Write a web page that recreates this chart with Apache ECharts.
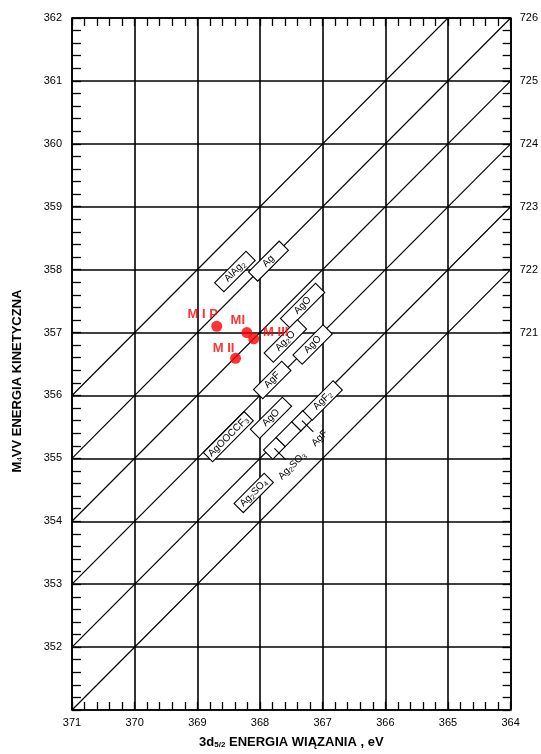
<!DOCTYPE html>
<html>
<head>
<meta charset="utf-8">
<script src="https://cdn.jsdelivr.net/npm/echarts@6/dist/echarts.min.js"></script>
<style>html,body{margin:0;padding:0;background:#fff}#c{width:541px;height:754px}</style>
</head>
<body>
<div id="c"></div>
<script>
// ---- data ----
const xTickLabels = [364, 365, 366, 367, 368, 369, 370, 371];
const leftTickLabels = [352, 353, 354, 355, 356, 357, 358, 359, 360, 361, 362];
const rightTickLabels = [721, 722, 723, 724, 725, 726];
const augerLines = [722, 723, 724, 725, 726, 727];

const pointNames = ['M I P', 'MI', 'M III', 'M II'];
const pointBE = [368.69, 368.21, 368.10, 368.39];
const pointKE = [357.10, 357.00, 356.90, 356.59];

const boxText    = ['AlAg{s|2}', 'Ag', 'AgO', 'Ag{s|2}O', 'AgO', 'AgF', 'AgOOCCF{s|3}', 'AgO', '', '', '', 'AgF{s|2}', 'Ag{s|2}SO{s|4}'];
const calloutText= ['', '', '', '', '', '', '', '', 'Ag{s|2}SO{s|3}', '', 'AgF', '', ''];
const boxBEStart = [368.65, 368.11, 367.60, 367.86, 367.40, 368.03, 368.83, 368.08, 367.87, 367.67, 367.42, 367.24, 368.34];
const boxBEEnd   = [368.15, 367.62, 367.04, 367.33, 366.92, 367.58, 368.18, 367.57, 367.67, 367.42, 367.24, 366.76, 367.86];
const boxAuger   = [726.37, 726.00, 724.75, 724.46, 723.97, 724.05, 723.85, 723.47, 722.93, 722.93, 722.93, 722.92, 722.55];

// ---- styles ----
const NARROW = '"Liberation Sans Narrow", "Arial Narrow", "Liberation Sans", Arial, sans-serif';
const SANS = '"Liberation Sans", Arial, sans-serif';
const INK = '#000';
const RED = '#ff0000';
const pointLabelOffsets = [[-14, -12], [-9, -12], [22, -6], [-12, -10]];
const BOX_W = 13;

const boxRich = { s: { fontSize: 7, fontFamily: SANS, fill: INK, verticalAlign: 'bottom', padding: [5, 0, 0, 0] } };

const chart = echarts.init(document.getElementById('c'));

const lineSeries = augerLines.map(a => ({
  type: 'line',
  xAxisIndex: 0, yAxisIndex: 0,
  data: [[371, a - 371], [364, a - 364]],
  showSymbol: false, silent: true, clip: true,
  lineStyle: { color: INK, width: 1.2 },
  z: 2
}));

const boxData = boxText.map((t, i) => [boxBEStart[i], boxBEEnd[i], boxAuger[i]]);

const boxSeries = {
  type: 'custom',
  xAxisIndex: 0, yAxisIndex: 0,
  data: boxData,
  silent: true,
  z: 3,
  encode: { x: [0, 1] },
  renderItem: function (params, api) {
    const i = params.dataIndex;
    const b1 = api.value(0), b2 = api.value(1), a = api.value(2);
    const p1 = api.coord([b1, a - b1]);
    const p2 = api.coord([b2, a - b2]);
    const cx = (p1[0] + p2[0]) / 2, cy = (p1[1] + p2[1]) / 2;
    const dx = p2[0] - p1[0], dy = p2[1] - p1[1];
    const L = Math.hypot(dx, dy);
    const rot = Math.atan2(-dy, dx);
    const children = [{
      type: 'rect',
      shape: { x: -L / 2, y: -BOX_W / 2, width: L, height: BOX_W },
      style: { fill: '#fff', stroke: INK, lineWidth: 1.1 }
    }];
    if (boxText[i]) {
      children.push({
        type: 'text',
        style: { text: boxText[i], rich: boxRich, x: 0, y: 0, align: 'center', verticalAlign: 'middle',
                 fill: INK, fontSize: 10, fontFamily: SANS }
      });
    }
    if (calloutText[i]) {
      children.push({ type: 'line', shape: { x1: 0, y1: 0, x2: 0, y2: 16 }, style: { stroke: INK, lineWidth: 1.1 } });
      children.push({
        type: 'text',
        style: { text: calloutText[i], rich: boxRich, x: 0, y: 25, align: 'center', verticalAlign: 'middle',
                 fill: INK, fontSize: 10, fontFamily: SANS }
      });
    }
    return { type: 'group', x: cx, y: cy, rotation: rot, children: children };
  }
};

const pointSeries = {
  type: 'scatter',
  xAxisIndex: 0, yAxisIndex: 0,
  symbolSize: 11,
  itemStyle: { color: RED },
  z: 5,
  data: pointNames.map((n, i) => ({
    name: n,
    value: [pointBE[i], pointKE[i]],
    label: { offset: pointLabelOffsets[i] }
  })),
  label: {
    show: true, position: 'inside', formatter: '{b}',
    color: RED, fontWeight: 'bold', fontSize: 13, fontFamily: SANS
  }
};

const commonTick = { show: true, inside: true, length: 8, lineStyle: { color: INK, width: 1.3 } };

chart.setOption({
  animation: false,
  backgroundColor: '#fff',
  grid: { left: 72, right: 26, top: 18, bottom: 42 },
  xAxis: [
    {
      type: 'value', position: 'bottom', min: 364, max: 371, interval: 1, inverse: true,
      axisLine: { show: true, lineStyle: { color: INK, width: 1.6 } },
      axisTick: commonTick,
      minorTick: { show: true, splitNumber: 5, length: 8, lineStyle: { color: INK, width: 1.3 } },
      splitLine: { show: true, lineStyle: { color: INK, width: 1.6 } },
      axisLabel: { color: INK, fontSize: 11, fontFamily: NARROW, margin: 7,
                   formatter: v => xTickLabels.includes(v) ? String(v) : '' },
      name: '3d{s|5/2} ENERGIA WIĄZANIA , eV',
      nameLocation: 'middle', nameGap: 25,
      nameTextStyle: { color: INK, fontWeight: 'bold', fontSize: 13, fontFamily: SANS,
        rich: { s: { fontSize: 8, fontFamily: SANS, color: INK, verticalAlign: 'bottom', padding: [6, 0, 0, 0] } } }
    },
    {
      type: 'value', position: 'top', min: 364, max: 371, interval: 1, inverse: true,
      axisLine: { show: true, lineStyle: { color: INK, width: 1.6 } },
      axisTick: commonTick,
      minorTick: { show: true, splitNumber: 5, length: 8, lineStyle: { color: INK, width: 1.3 } },
      splitLine: { show: false },
      axisLabel: { show: false }
    }
  ],
  yAxis: [
    {
      type: 'value', position: 'left', min: 351, max: 362, interval: 1,
      axisLine: { show: true, lineStyle: { color: INK, width: 1.6 } },
      axisTick: Object.assign({}, commonTick, { length: 9 }),
      minorTick: { show: true, splitNumber: 5, length: 9, lineStyle: { color: INK, width: 1.3 } },
      splitLine: { show: true, lineStyle: { color: INK, width: 1.6 } },
      axisLabel: { color: INK, fontSize: 11, fontFamily: NARROW, margin: 10,
                   formatter: v => leftTickLabels.includes(v) ? String(v) : '' }
    },
    {
      type: 'value', position: 'right', min: 715, max: 726, interval: 1,
      axisLine: { show: true, lineStyle: { color: INK, width: 1.6 } },
      axisTick: commonTick,
      minorTick: { show: true, splitNumber: 5, length: 8, lineStyle: { color: INK, width: 1.3 } },
      splitLine: { show: false },
      axisLabel: { color: INK, fontSize: 11, fontFamily: NARROW, margin: 9,
                   formatter: v => rightTickLabels.includes(v) ? String(v) : '' }
    }
  ],
  graphic: [{
    type: 'text', x: 17, y: 381, rotation: Math.PI / 2,
    style: {
      text: 'M{s|4}VV ENERGIA KINETYCZNA',
      rich: { s: { fontSize: 8, fontFamily: SANS, fill: INK, verticalAlign: 'bottom', padding: [6, 0, 0, 0] } },
      align: 'center', verticalAlign: 'middle',
      fill: INK, fontWeight: 'bold', fontSize: 13, fontFamily: SANS
    }
  }],
  series: lineSeries.concat([boxSeries, pointSeries])
});
</script>
</body>
</html>
